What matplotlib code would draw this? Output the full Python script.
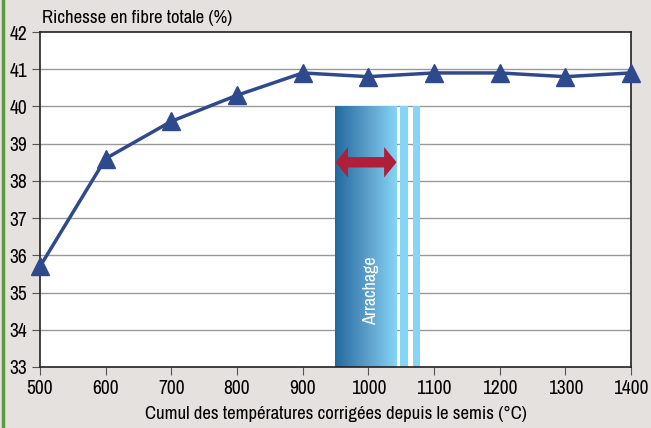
import numpy as np
import matplotlib
matplotlib.use("Agg")
import matplotlib.pyplot as plt
from matplotlib import font_manager
from matplotlib.colors import LinearSegmentedColormap

names = sorted({f.name for f in font_manager.fontManager.ttflist})
narrow = [n for n in names if "Narrow" in n or "Condensed" in n]
plt.rcParams["font.family"] = narrow[:1] + ["DejaVu Sans"]
plt.rcParams["font.stretch"] = "condensed"

# data
cumul = [500, 600, 700, 800, 900, 1000, 1100, 1200, 1300, 1400]
fibre = [35.7, 38.6, 39.6, 40.3, 40.9, 40.8, 40.9, 40.9, 40.8, 40.9]
band_start, band_end = 950, 1043
strips = [(1048, 1061), (1068, 1079)]
band_top = 40.0
arrow_y = 38.5
xticks = list(range(500, 1401, 100))
yticks = list(range(33, 43))

bg = "#e5e1de"
fig = plt.figure(figsize=(6.51, 4.28), dpi=100, facecolor=bg)
ax = fig.add_axes([40 / 651, 1 - 367 / 428, 591 / 651, 335 / 428])
ax.set_facecolor("white")

ax.set_xlim(500, 1400)
ax.set_ylim(33, 42)

for y in yticks[1:-1]:
    ax.axhline(y, color="#9a9a9a", lw=1.0, zorder=1)

cmap = LinearSegmentedColormap.from_list("arr", ["#226a9e", "#5a9cc8", "#84d5f6"])
grad = np.linspace(0, 1, 256).reshape(1, -1)
ax.imshow(grad, cmap=cmap, aspect="auto", extent=[band_start, band_end, 33, band_top],
          zorder=2, interpolation="bilinear")
for s0, s1 in strips:
    ax.fill_between([s0, s1], 33, band_top, color="#84d5f6", lw=0, zorder=2)

# double-headed arrow, drawn as two halves from the middle
mid = (band_start + band_end) / 2
for end in (band_start, band_end):
    ax.arrow(mid, arrow_y, end - mid, 0, width=0.28, head_width=0.82, head_length=19,
             length_includes_head=True, color="#b01f3a", lw=0, zorder=4)
ax.text(mid + 8, 35.05, "Arrachage", rotation=90, color="white",
        ha="center", va="center", fontsize=13, zorder=4)

ax.plot(cumul, fibre, color="#2e4a8c", lw=2.5, marker="^", markersize=13,
        clip_on=False, zorder=5)

ax.set_xticks(xticks)
ax.set_yticks(yticks)
ax.tick_params(direction="out", length=6, color="#555555", labelsize=14, pad=3)
for side in ["left", "bottom", "top", "right"]:
    ax.spines[side].set_color("#222222")
    ax.spines[side].set_linewidth(1.2)

ax.set_xlabel("Cumul des températures corrigées depuis le semis (°C)", fontsize=13.5, labelpad=5)
fig.text(42 / 651, 1 - 18 / 428, "Richesse en fibre totale (%)", fontsize=13.5, va="center")

# green border on the left
fig.add_artist(plt.Line2D([2.5 / 651, 2.5 / 651], [0, 1], color="#5a9a3c", lw=2.5))

fig.savefig("out.png", dpi=100, facecolor=bg)
